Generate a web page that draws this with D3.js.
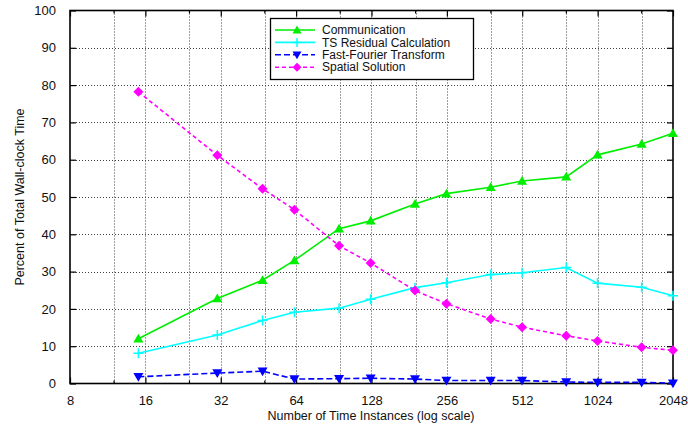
<!DOCTYPE html>
<html>
<head>
<meta charset="utf-8">
<script src="https://cdn.jsdelivr.net/npm/d3@7"></script>
<style>
  html, body { margin: 0; padding: 0; background: #fff; }
  svg { display: block; font-family: "Liberation Sans", Arial, Helvetica, sans-serif; }
</style>
</head>
<body>
<svg id="chart" width="688" height="428"></svg>
<script>
// Time instances (2N+1 harmonics)
const instances = [15, 31, 47, 63, 95, 127, 191, 255, 383, 511, 767, 1023, 1535, 2047];

// Percent of total wall-clock time per component
const communication = [12.0, 22.8, 27.7, 33.0, 41.5, 43.6, 48.1, 50.9, 52.6, 54.3, 55.4, 61.3, 64.2, 67.1];
const tsResidual    = [8.1, 13.0, 16.9, 19.1, 20.2, 22.6, 25.7, 27.0, 29.2, 29.7, 31.1, 26.9, 25.8, 23.5];
const fft           = [1.8, 2.8, 3.3, 1.2, 1.3, 1.4, 1.2, 0.8, 0.8, 0.8, 0.4, 0.3, 0.3, 0.1];
const spatial       = [78.2, 61.2, 52.2, 46.6, 36.9, 32.3, 24.9, 21.4, 17.3, 15.1, 12.8, 11.4, 9.7, 8.9];

const xTickValues = [8, 16, 32, 64, 128, 256, 512, 1024, 2048];
const xMinorValues = [12, 24, 48, 96, 192, 384, 768, 1536];
const yTickValues = [0, 10, 20, 30, 40, 50, 60, 70, 80, 90, 100];

const seriesList = [
  { name: "Communication", values: communication, color: "#00ee00", dash: null, marker: "triUp" },
  { name: "TS Residual Calculation", values: tsResidual, color: "#00ffff", dash: null, marker: "plus" },
  { name: "Fast-Fourier Transform", values: fft, color: "#0000ff", dash: "6,3", marker: "triDown" },
  { name: "Spatial Solution", values: spatial, color: "#ff00ff", dash: "4,3", marker: "diamond" }
];

const svg = d3.select("#chart");
const plotL = 70, plotR = 673, plotT = 10.5, plotB = 383.5;

const x = d3.scaleLog().base(2).domain([8, 2048]).range([plotL, plotR]);
const y = d3.scaleLinear().domain([0, 100]).range([plotB, plotT]);

// grid
const grid = svg.append("g").attr("stroke", "#000").attr("stroke-width", 1)
  .attr("stroke-dasharray", "1,2").attr("opacity", 0.75);
grid.selectAll("line.gx")
  .data(xTickValues.slice(1, -1).concat(xMinorValues))
  .join("line")
  .attr("x1", d => Math.round(x(d)) + 0.5).attr("x2", d => Math.round(x(d)) + 0.5)
  .attr("y1", plotT).attr("y2", plotB);
grid.selectAll("line.gy")
  .data(yTickValues.slice(1, -1))
  .join("line")
  .attr("x1", plotL).attr("x2", plotR)
  .attr("y1", d => Math.round(y(d)) + 0.5).attr("y2", d => Math.round(y(d)) + 0.5);

// axes
const xAxisB = d3.axisBottom(x).tickValues(xTickValues).tickFormat(d3.format("d")).tickSizeInner(-6).tickSizeOuter(0).tickPadding(12);
const xAxisT = d3.axisTop(x).tickValues(xTickValues).tickFormat("").tickSizeInner(-6).tickSizeOuter(0);
const yAxisL = d3.axisLeft(y).tickValues(yTickValues).tickSizeInner(-6).tickSizeOuter(0).tickPadding(14);
const yAxisR = d3.axisRight(y).tickValues(yTickValues).tickFormat("").tickSizeInner(-6).tickSizeOuter(0);

function styleAxis(g) {
  g.select(".domain").remove();
  g.selectAll("line").attr("stroke", "#000").attr("stroke-width", 1.2);
  g.selectAll("text").attr("fill", "#111").attr("font-size", 13)
    .attr("font-family", "'Liberation Sans', Arial, sans-serif");
}
svg.append("g").attr("transform", `translate(0,${plotB})`).call(xAxisB).call(styleAxis);
svg.append("g").attr("transform", `translate(0,${plotT})`).call(xAxisT).call(styleAxis);
svg.append("g").attr("transform", `translate(${plotL},0)`).call(yAxisL).call(styleAxis);
svg.append("g").attr("transform", `translate(${plotR},0)`).call(yAxisR).call(styleAxis);

// minor x ticks
const minor = svg.append("g").attr("stroke", "#000").attr("stroke-width", 1.2);
minor.selectAll("line.mb").data(xMinorValues).join("line")
  .attr("x1", d => x(d)).attr("x2", d => x(d)).attr("y1", plotB).attr("y2", plotB - 3);
minor.selectAll("line.mt").data(xMinorValues).join("line")
  .attr("x1", d => x(d)).attr("x2", d => x(d)).attr("y1", plotT).attr("y2", plotT + 3);

// frame
svg.append("rect").attr("x", plotL).attr("y", plotT).attr("width", plotR - plotL).attr("height", plotB - plotT)
  .attr("fill", "none").attr("stroke", "#000").attr("stroke-width", 1.6);

// markers
function drawMarker(g, type, color, s) {
  if (type === "triUp") {
    g.append("path").attr("d", `M0,${-s}L${s},${s * 0.75}L${-s},${s * 0.75}Z`).attr("fill", color);
  } else if (type === "triDown") {
    g.append("path").attr("d", `M0,${s}L${s},${-s * 0.75}L${-s},${-s * 0.75}Z`).attr("fill", color);
  } else if (type === "diamond") {
    g.append("path").attr("d", `M0,${-s}L${s},0L0,${s}L${-s},0Z`).attr("fill", color);
  } else if (type === "plus") {
    g.append("path").attr("d", `M${-s},0H${s}M0,${-s}V${s}`).attr("stroke", color).attr("stroke-width", 1.5).attr("fill", "none");
  }
}

const line = d3.line().x(d => x(d[0])).y(d => y(d[1]));
seriesList.forEach(s => {
  const pts = instances.map((n, i) => [n, s.values[i]]);
  svg.append("path").datum(pts).attr("d", line)
    .attr("fill", "none").attr("stroke", s.color).attr("stroke-width", 1.6)
    .attr("stroke-dasharray", s.dash);
  const mg = svg.append("g");
  pts.forEach(p => {
    drawMarker(mg.append("g").attr("transform", `translate(${x(p[0])},${y(p[1])})`), s.marker, s.color, 5);
  });
});

// legend
const lg = svg.append("g");
lg.append("rect").attr("x", 270.5).attr("y", 18.5).attr("width", 203).attr("height", 61)
  .attr("fill", "#fff").attr("stroke", "#000").attr("stroke-width", 1.3);
seriesList.forEach((s, i) => {
  const yy = 30 + i * 12.4;
  lg.append("line").attr("x1", 275).attr("x2", 315).attr("y1", yy).attr("y2", yy)
    .attr("stroke", s.color).attr("stroke-width", 1.6).attr("stroke-dasharray", s.dash);
  drawMarker(lg.append("g").attr("transform", `translate(297,${yy})`), s.marker, s.color, 4.5);
  lg.append("text").attr("x", 322).attr("y", yy + 4.2).attr("font-size", 12).attr("fill", "#111")
    .text(s.name);
});

// axis titles
svg.append("text").attr("x", 371).attr("y", 420).attr("text-anchor", "middle")
  .attr("font-size", 12.5).attr("fill", "#111").text("Number of Time Instances (log scale)");
svg.append("text").attr("transform", "translate(24,197) rotate(-90)").attr("text-anchor", "middle")
  .attr("font-size", 12.5).attr("fill", "#111").text("Percent of Total Wall-clock Time");
</script>
</body>
</html>
